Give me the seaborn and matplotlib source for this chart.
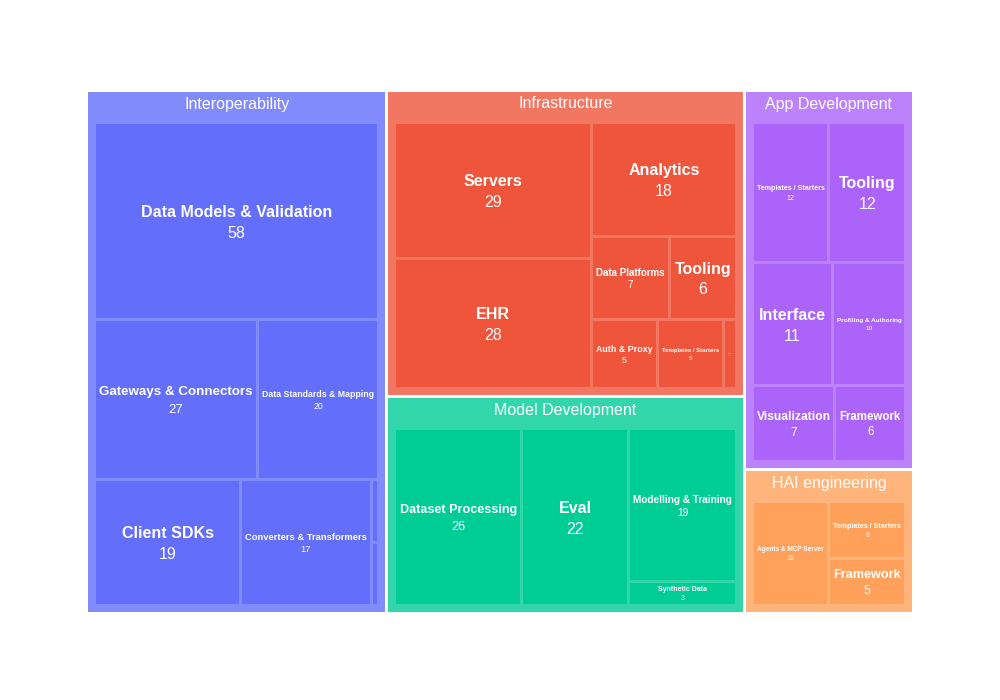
import numpy as np
import matplotlib
matplotlib.use("Agg")
import matplotlib.pyplot as plt
import seaborn as sns
from matplotlib.patches import Rectangle

# groups (top level), drawn in this order
groups = ["Interoperability", "Infrastructure", "Model Development", "App Development", "HAI engineering"]
group_colors = ["#636EFA", "#EF553B", "#00CC96", "#AB63FA", "#FFA15A"]

interop_labels = ["Data Models & Validation", "Gateways & Connectors", "Data Standards & Mapping",
                  "Client SDKs", "Converters & Transformers", "Other", "Misc"]
interop_values = [58, 27, 20, 19, 17, 0.5, 0.5]

infra_labels = ["Servers", "EHR", "Analytics", "Data Platforms", "Tooling", "Auth & Proxy",
                "Templates / Starters", "Other"]
infra_values = [29, 28, 18, 7, 6, 5, 5, 1]

model_labels = ["Dataset Processing", "Eval", "Modelling & Training", "Synthetic Data"]
model_values = [26, 22, 19, 3]

app_labels = ["Templates / Starters", "Tooling", "Interface", "Profiling & Authoring",
              "Visualization", "Framework"]
app_values = [12, 12, 11, 10, 7, 6]

hai_labels = ["Agents & MCP Server", "Templates / Starters", "Framework"]
hai_values = [11, 6, 5]

children = [
    (interop_labels, interop_values),
    (infra_labels, infra_values),
    (model_labels, model_values),
    (app_labels, app_values),
    (hai_labels, hai_values),
]


def worst(row, side):
    s = sum(row)
    return max(max(side * side * r / (s * s), s * s / (side * side * r)) for r in row)


def squarify(values, x, y, w, h):
    total = float(sum(values))
    areas = [v / total * w * h for v in values]
    rects = []
    i = 0
    while i < len(areas):
        side = min(w, h)
        row = [areas[i]]
        j = i + 1
        while j < len(areas) and worst(row + [areas[j]], side) <= worst(row, side):
            row.append(areas[j])
            j += 1
        s = sum(row)
        if w >= h:
            cw = s / h
            yy = y
            for r in row:
                rh = r / cw
                rects.append((x, yy, cw, rh))
                yy += rh
            x += cw
            w -= cw
        else:
            rh = s / w
            xx = x
            for r in row:
                rw = r / rh
                rects.append((xx, y, rw, rh))
                xx += rw
            y += rh
            h -= rh
        i = j
    return rects


def lighten(hex_color, amount):
    rgb = np.array(matplotlib.colors.to_rgb(hex_color))
    return tuple(rgb + (1 - rgb) * amount)


def inset(r, d):
    x, y, w, h = r
    return (x + d, y + d, w - 2 * d, h - 2 * d)


sns.set_theme(style="white")
plt.rcParams['font.family'] = ['Liberation Sans', 'DejaVu Sans']

fig = plt.figure(figsize=(10, 7), dpi=100)
ax = fig.add_axes([0, 0, 1, 1])
ax.set_xlim(0, 1000)
ax.set_ylim(700, 0)
ax.axis("off")
renderer = fig.canvas.get_renderer()

PX = 72.0 / 100  # points per pixel
MAX_PX = 16

totals = [sum(v) for _, v in children]
top_rects = squarify(totals, 86.5, 90.5, 827, 523)

for gi, (g, (labels, values)) in enumerate(zip(groups, children)):
    base = group_colors[gi]
    pr = inset(top_rects[gi], 1.5)
    px, py, pw, ph = pr
    ax.add_patch(Rectangle((px, py), pw, ph, facecolor=lighten(base, 0.2), edgecolor="none"))
    ax.text(px + pw / 2, py + 12, g, ha="center", va="center", color="white",
            fontsize=MAX_PX * PX)

    inner = (px + 6.5, py + 30.5, pw - 13, ph - 37)
    leaf_rects = squarify(values, *inner)
    for lab, val, r in zip(labels, values, leaf_rects):
        lx, ly, lw, lh = inset(r, 1.5)
        ax.add_patch(Rectangle((lx, ly), lw, lh, facecolor=base, edgecolor="none"))
        aw = lw - 6
        ah = lh - 4
        if aw <= 0 or ah <= 0:
            continue
        vtxt = f"{val:g}"
        t1 = ax.text(0, 0, lab, fontsize=MAX_PX * PX, fontweight="bold")
        t2 = ax.text(0, 0, vtxt, fontsize=MAX_PX * PX)
        tw = max(t1.get_window_extent(renderer).width, t2.get_window_extent(renderer).width)
        t1.remove()
        t2.remove()
        th = 2.45 * MAX_PX
        scale = min(1.0, aw / tw, ah / th)
        fs = MAX_PX * scale
        if fs < 1:
            continue
        cx = lx + lw / 2
        cy = ly + lh / 2 + 0.1 * fs
        ax.text(cx, cy - 0.65 * fs, lab, ha="center", va="center", color="white",
                fontsize=fs * PX, fontweight="bold")
        ax.text(cx, cy + 0.65 * fs, vtxt, ha="center", va="center", color="white",
                fontsize=fs * PX)

fig.savefig("out.png", dpi=100, facecolor="white")
